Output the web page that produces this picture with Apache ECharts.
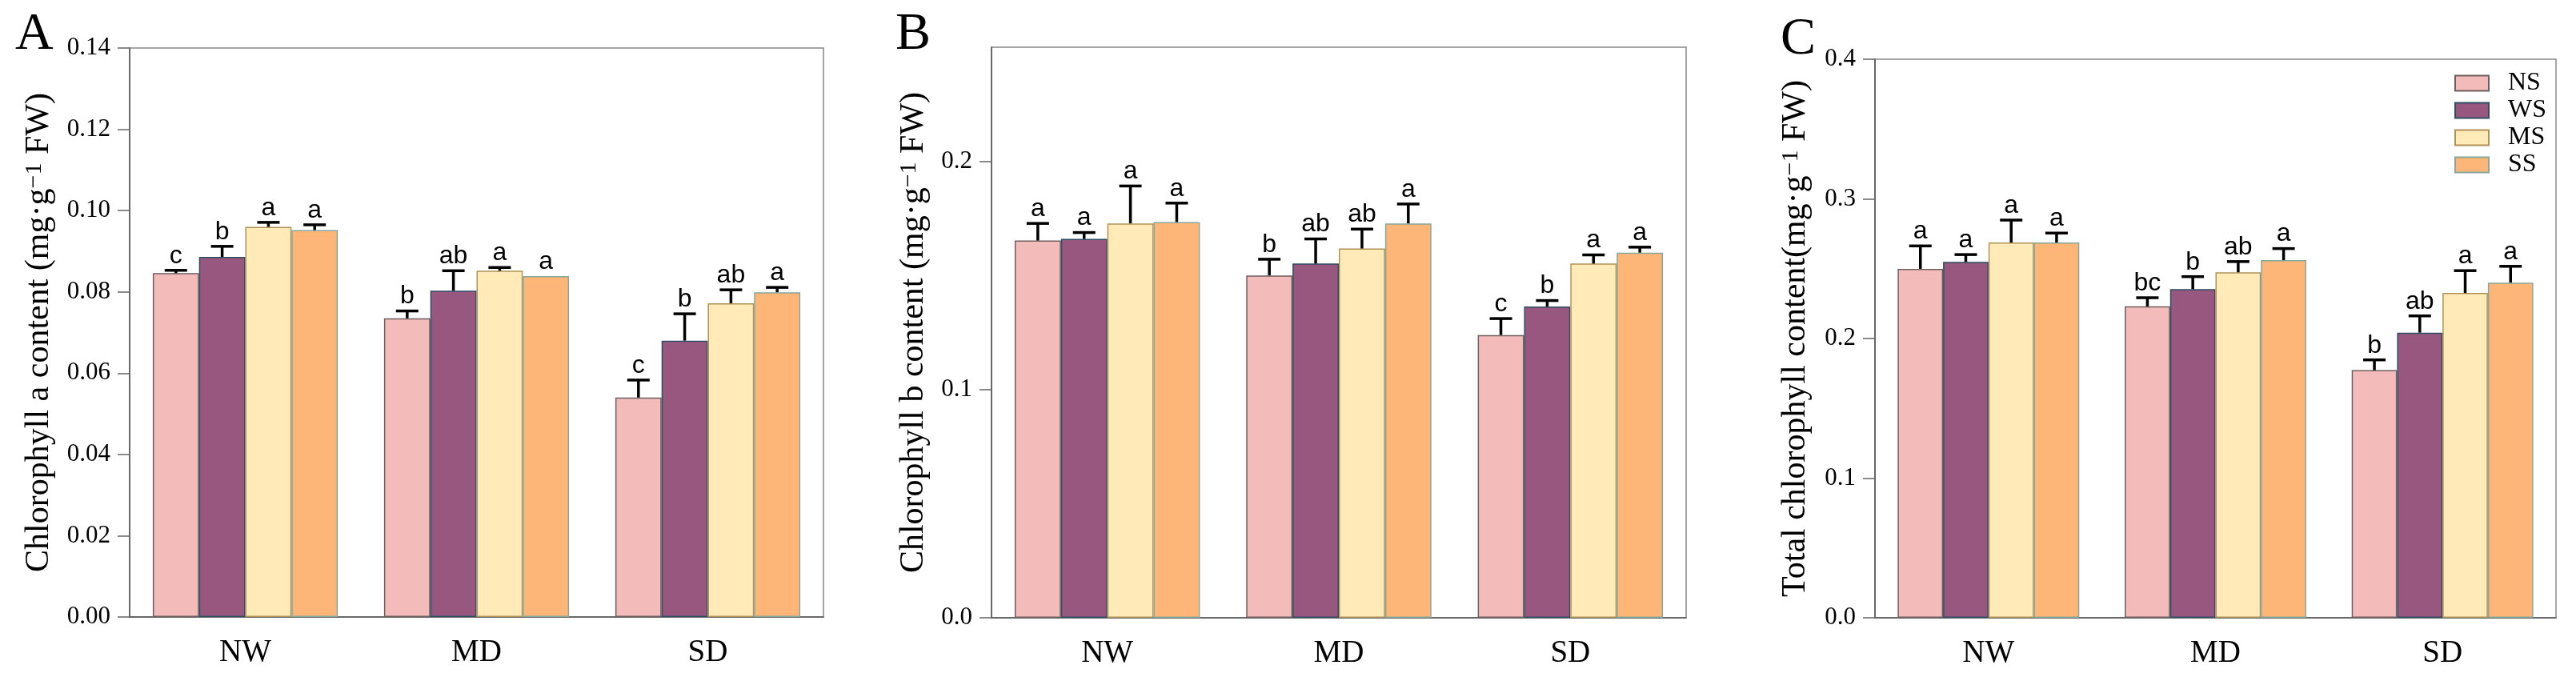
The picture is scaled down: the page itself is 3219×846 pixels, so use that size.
<!DOCTYPE html>
<html>
<head>
<meta charset="utf-8">
<script src="https://cdn.jsdelivr.net/npm/echarts@6/dist/echarts.min.js"></script>
<style>
html,body{margin:0;padding:0;background:#fff;}
#c{width:3219px;height:846px;}
</style>
</head>
<body>
<div id="c"></div>
<script>
// ---------- data ----------
const categories = ['NW', 'MD', 'SD'];
const seriesNames = ['NS', 'WS', 'MS', 'SS'];

// Panel A: Chlorophyll a (rows: NS, WS, MS, SS; cols: NW, MD, SD)
const chlA_mean = [
  [0.0846, 0.0735, 0.0540],
  [0.0886, 0.0803, 0.0680],
  [0.0960, 0.0852, 0.0772],
  [0.0952, 0.0839, 0.0799]
];
const chlA_err = [
  [0.0007, 0.0018, 0.0043],
  [0.0026, 0.0049, 0.0066],
  [0.0011, 0.0008, 0.0033],
  [0.0013, 0.0000, 0.0012]
];
const chlA_sig = [
  ['c', 'b', 'c'],
  ['b', 'ab', 'b'],
  ['a', 'a', 'ab'],
  ['a', 'a', 'a']
];

// Panel B: Chlorophyll b
const chlB_mean = [
  [0.1653, 0.1500, 0.1239],
  [0.1660, 0.1552, 0.1364],
  [0.1728, 0.1618, 0.1552],
  [0.1734, 0.1728, 0.1600]
];
const chlB_err = [
  [0.0075, 0.0071, 0.0072],
  [0.0028, 0.0108, 0.0026],
  [0.0164, 0.0085, 0.0038],
  [0.0083, 0.0085, 0.0024]
];
const chlB_sig = [
  ['a', 'b', 'c'],
  ['a', 'ab', 'b'],
  ['a', 'ab', 'a'],
  ['a', 'a', 'a']
];

// Panel C: Total chlorophyll
const chlT_mean = [
  [0.2499, 0.2230, 0.1773],
  [0.2548, 0.2354, 0.2042],
  [0.2687, 0.2474, 0.2326],
  [0.2687, 0.2561, 0.2400]
];
const chlT_err = [
  [0.0164, 0.0062, 0.0074],
  [0.0053, 0.0089, 0.0120],
  [0.0161, 0.0077, 0.0160],
  [0.0068, 0.0083, 0.0117]
];
const chlT_sig = [
  ['a', 'bc', 'b'],
  ['a', 'b', 'ab'],
  ['a', 'ab', 'a'],
  ['a', 'a', 'a']
];

const yTicksA = [0, 0.02, 0.04, 0.06, 0.08, 0.10, 0.12, 0.14];
const yTicksB = [0, 0.1, 0.2];
const yTicksC = [0, 0.1, 0.2, 0.3, 0.4];

// ---------- styles ----------
const fills = ['#F4BBBB', '#97577F', '#FFEAB8', '#FDB678'];
const borders = ['#6E5E5E', '#2E4E63', '#B09257', '#86A89A'];
const SERIF = 'Liberation Serif';
const SANS = 'Liberation Sans';

const panels = [
  { mean: chlA_mean, err: chlA_err, sig: chlA_sig, ticks: yTicksA, max: 0.14, dec: 2,
    grid: { left: 162, top: 60, width: 867, height: 711 }, nameGap: 92,
    name: '{t|Chlorophyll a content (mg·g}{s|−1}{t| FW)}' },
  { mean: chlB_mean, err: chlB_err, sig: chlB_sig, ticks: yTicksB, max: 0.25, dec: 1,
    grid: { left: 1239, top: 59, width: 868, height: 713 }, nameGap: 76,
    name: '{t|Chlorophyll b content (mg·g}{s|−1}{t| FW)}' },
  { mean: chlT_mean, err: chlT_err, sig: chlT_sig, ticks: yTicksC, max: 0.4, dec: 1,
    grid: { left: 2343, top: 74, width: 851, height: 698 }, nameGap: 78,
    name: '{t|Total chlorophyll content(mg·g}{s|−1}{t| FW)}' }
];

const grids = [], xAxes = [], yAxes = [], series = [];

panels.forEach((p, pi) => {
  grids.push(Object.assign({ show: true, borderColor: '#888', borderWidth: 1.5, containLabel: false }, p.grid));
  xAxes.push({
    type: 'category', gridIndex: pi, data: categories,
    axisLine: { lineStyle: { color: '#555', width: 1.5 } },
    axisTick: { alignWithLabel: true, length: 16, lineStyle: { color: '#888', width: 1.5 } },
    axisLabel: { color: '#000', fontFamily: SERIF, fontSize: 39, margin: 25 }
  });
  yAxes.push({
    type: 'value', gridIndex: pi, min: 0, max: p.max,
    name: p.name, nameLocation: 'middle', nameGap: p.nameGap, nameRotate: 90,
    nameTextStyle: {
      rich: {
        t: { fontFamily: SERIF, fontSize: 42, color: '#000' },
        s: { fontFamily: SERIF, fontSize: 30, color: '#000', verticalAlign: 'top' }
      }
    },
    splitLine: { show: false },
    axisLine: { show: true, lineStyle: { color: '#555', width: 1.5 } },
    axisTick: { show: true, length: 15, lineStyle: { color: '#666', width: 1.5 }, customValues: p.ticks },
    axisLabel: { color: '#000', fontFamily: SERIF, fontSize: 31, margin: 24, customValues: p.ticks,
      formatter: v => v.toFixed(p.dec) }
  });
  seriesNames.forEach((sn, k) => {
    series.push({
      type: 'bar', name: sn, xAxisIndex: pi, yAxisIndex: pi,
      data: p.mean[k],
      barGap: '0%', barCategoryGap: '20%',
      itemStyle: { color: fills[k], borderColor: borders[k], borderWidth: 1.5 },
      emphasis: { disabled: true }
    });
  });
  seriesNames.forEach((sn, k) => {
    series.push({
      type: 'custom', xAxisIndex: pi, yAxisIndex: pi, z: 10, silent: true,
      data: categories.map((c, i) => [i, p.mean[k][i], p.err[k][i]]),
      renderItem: function (params, api) {
        const cat = api.value(0), m = api.value(1), e = api.value(2);
        const band = api.size([1, 0])[0];
        const bw = band * 0.8 / 4;
        const base = api.coord([cat, m]);
        const x = base[0] + (k - 1.5) * bw;
        const yTop = api.coord([cat, m + e])[1];
        const children = [];
        if (e > 0) {
          children.push({ type: 'line', shape: { x1: x, y1: base[1], x2: x, y2: yTop },
            style: { stroke: '#000', lineWidth: 3.5 } });
          children.push({ type: 'line', shape: { x1: x - 14, y1: yTop, x2: x + 14, y2: yTop },
            style: { stroke: '#000', lineWidth: 3.5 } });
        }
        children.push({ type: 'text', x: x, y: yTop - 2,
          style: { text: p.sig[k][params.dataIndex], textAlign: 'center', textVerticalAlign: 'bottom',
            fontFamily: SANS, fontSize: 32, fill: '#000' } });
        return { type: 'group', children: children };
      }
    });
  });
});

const chart = echarts.init(document.getElementById('c'), null, { renderer: 'canvas' });
chart.setOption({
  backgroundColor: '#fff',
  animation: false,
  title: [
    { text: 'A', left: 14, top: 6, textStyle: { fontFamily: SERIF, fontSize: 66, fontWeight: 'normal', color: '#000' } },
    { text: 'B', left: 1114, top: 6, textStyle: { fontFamily: SERIF, fontSize: 66, fontWeight: 'normal', color: '#000' } },
    { text: 'C', left: 2220, top: 12, textStyle: { fontFamily: SERIF, fontSize: 66, fontWeight: 'normal', color: '#000' } }
  ],
  legend: {
    data: seriesNames, orient: 'vertical', left: 3067, top: 88, padding: 0,
    icon: 'rect', itemWidth: 42, itemHeight: 19, itemGap: 2,
    textStyle: { fontFamily: SERIF, fontSize: 32, color: '#000', lineHeight: 32, padding: [0, 0, 0, 19] },
    selectedMode: false
  },
  grid: grids, xAxis: xAxes, yAxis: yAxes, series: series
});
</script>
</body>
</html>
